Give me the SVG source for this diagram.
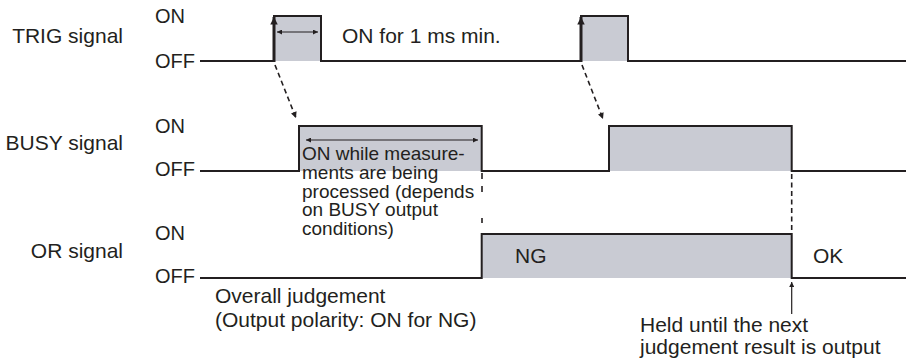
<svg xmlns="http://www.w3.org/2000/svg" width="906" height="364" viewBox="0 0 906 364">
<style>
text{font-family:"Liberation Sans",Arial,sans-serif;fill:#231f20;font-size:21px}
.lbl{font-size:20px}
.note{font-size:19px}
.sig{fill:none;stroke:#231f20;stroke-width:2;stroke-linejoin:miter}
.fill{fill:#c9cbd3;stroke:none}
.thin{stroke:#231f20;stroke-width:1.2;fill:none}
.dash{stroke:#231f20;stroke-width:1.6;fill:none;stroke-dasharray:5 3.5}
.dsolid{stroke:#231f20;stroke-width:1.6;fill:none}
.thick{stroke:#231f20;stroke-width:3;fill:none}
</style>
<defs>
<marker id="ah" viewBox="0 0 10 10" refX="10" refY="5" markerWidth="7" markerHeight="5" markerUnits="userSpaceOnUse" orient="auto-start-reverse"><path d="M0,0 L10,5 L0,10 z" fill="#231f20"/></marker>
<marker id="ahd" viewBox="0 0 10 10" refX="10" refY="5" markerWidth="8" markerHeight="6" markerUnits="userSpaceOnUse" orient="auto"><path d="M0,0 L10,5 L0,10 z" fill="#231f20"/></marker>
<marker id="ahb" viewBox="0 0 10 10" refX="10" refY="5" markerWidth="11" markerHeight="7.5" markerUnits="userSpaceOnUse" orient="auto"><path d="M0,0 L10,5 L0,10 z" fill="#231f20"/></marker>
</defs>

<g id="trig">
<rect class="fill" x="274" y="16" width="47" height="45"/>
<rect class="fill" x="581" y="16" width="47" height="45"/>
<path class="sig" d="M200,61 H274 V16 H321 V61 H581 V16 H628 V61 H906"/>
<line class="thick" x1="274" y1="62" x2="274" y2="17" marker-end="url(#ahb)"/>
<line class="thick" x1="581" y1="62" x2="581" y2="17" marker-end="url(#ahb)"/>
<line class="thin" x1="277" y1="32" x2="318" y2="32" marker-start="url(#ah)" marker-end="url(#ah)"/>
<text x="123" y="43" text-anchor="end">TRIG signal</text>
<text class="lbl" x="155" y="23">ON</text>
<text class="lbl" x="155" y="68">OFF</text>
<text x="342" y="43">ON for 1 ms min.</text>
</g>

<g id="busy">
<rect class="fill" x="299" y="126" width="182.7" height="45"/>
<rect class="fill" x="609" y="126" width="182.7" height="45"/>
<path class="sig" d="M200,171 H299 V126 H481.7 V171 H609 V126 H791.7 V171 H906"/>
<line class="thin" x1="306" y1="140" x2="478" y2="140" marker-start="url(#ah)" marker-end="url(#ah)"/>
<text x="123" y="150" text-anchor="end">BUSY signal</text>
<text class="lbl" x="155" y="133">ON</text>
<text class="lbl" x="155" y="176">OFF</text>
<text class="note" x="302" y="160">ON while measure-</text>
<text class="note" x="302" y="178.75">ments are being</text>
<text class="note" x="302" y="197.5">processed (depends</text>
<text class="note" x="302" y="216.25">on BUSY output</text>
<text class="note" x="302" y="235">conditions)</text>
</g>

<g id="or">
<rect class="fill" x="481.7" y="234" width="310" height="44"/>
<path class="sig" d="M200,278 H481.7 V234 H791.7 V278 H906"/>
<text x="123" y="258" text-anchor="end">OR signal</text>
<text class="lbl" x="155" y="240">ON</text>
<text class="lbl" x="155" y="283">OFF</text>
<text x="515" y="263">NG</text>
<text x="813" y="263">OK</text>
<text x="215" y="303">Overall judgement</text>
<text x="215" y="327">(Output polarity: ON for NG)</text>
<text x="640" y="332">Held until the next</text>
<text x="640" y="354">judgement result is output</text>
</g>

<g id="connectors">
<line class="dash" x1="275" y1="65" x2="296" y2="118" marker-end="url(#ahd)"/>
<line class="dash" x1="582" y1="65" x2="603" y2="119" marker-end="url(#ahd)"/>
<path class="dsolid" d="M482,173 V179 M482,186 V192 M482,218 V223"/>
<line class="dash" x1="791.7" y1="174" x2="791.7" y2="232"/>
<line class="thin" x1="791.7" y1="314" x2="791.7" y2="282" marker-end="url(#ah)"/>
</g>
</svg>
